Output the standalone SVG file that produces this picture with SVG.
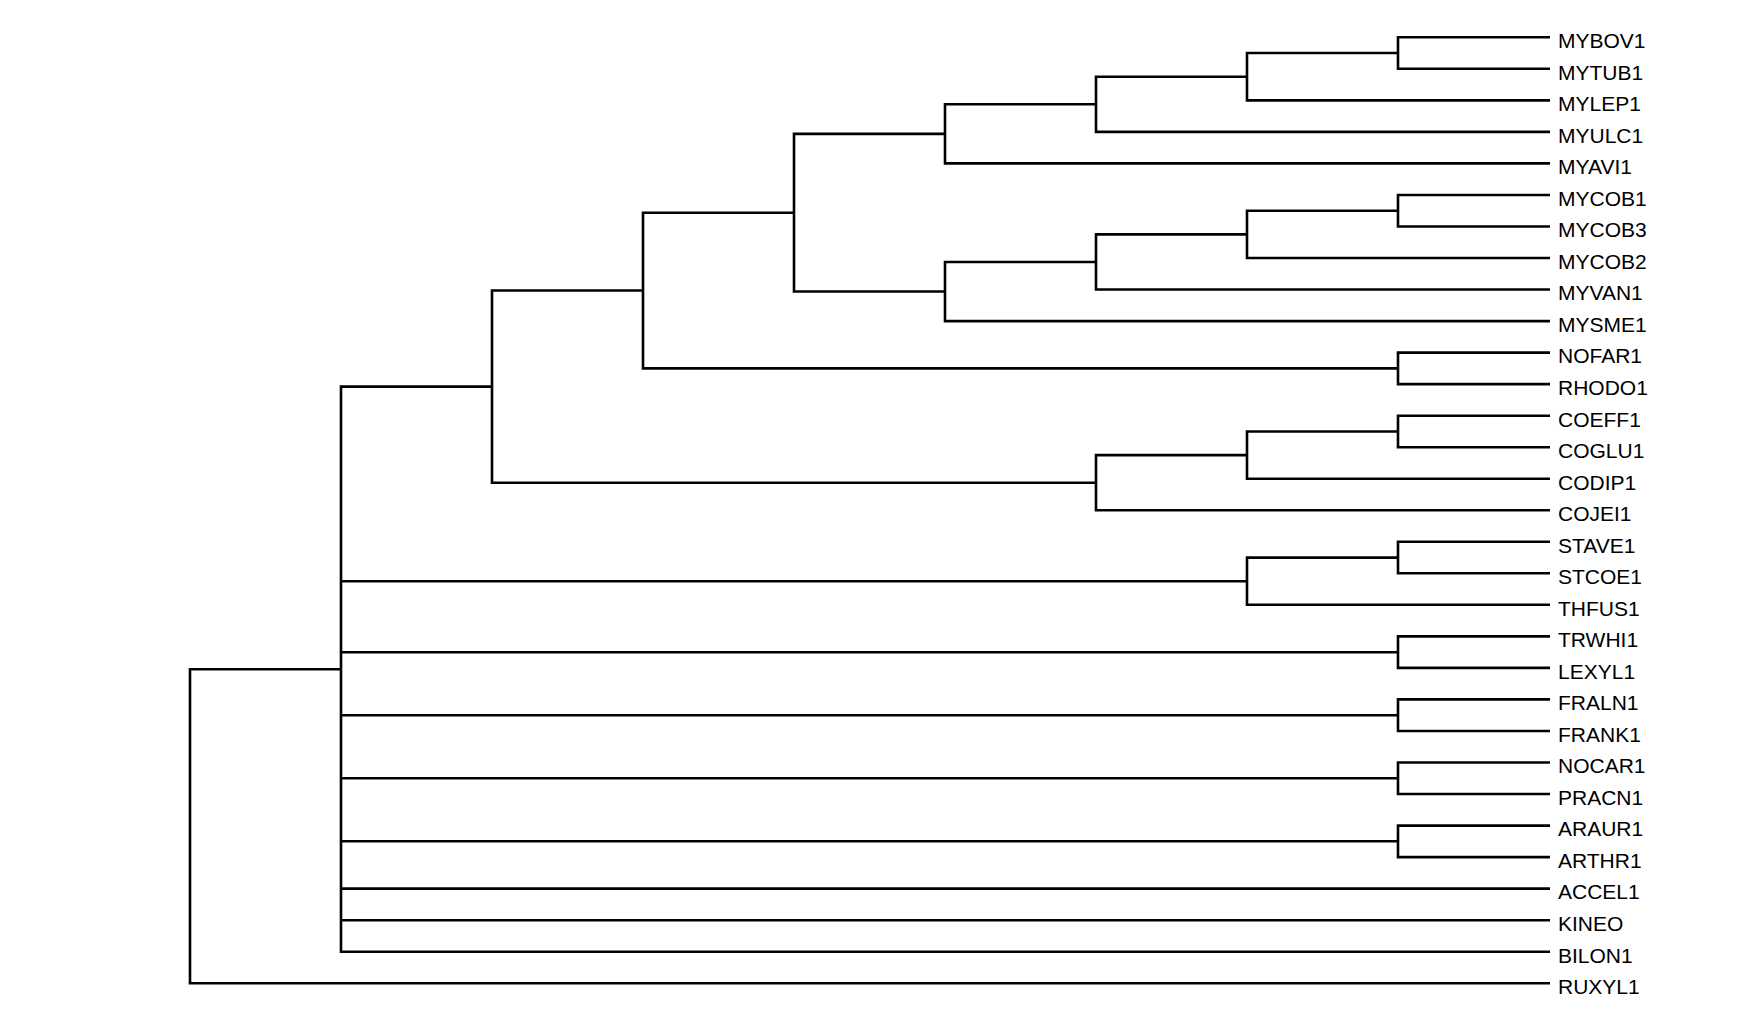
<svg xmlns="http://www.w3.org/2000/svg" width="1763" height="1025" viewBox="0 0 1763 1025">
<style>
.e{fill:none;stroke:#000;stroke-width:2.6;stroke-linejoin:miter;stroke-linecap:butt}
.t{font-family:"Liberation Sans",Arial,sans-serif;font-size:21px;fill:#000}
</style>
<rect width="1763" height="1025" fill="#fff"/>
<g id="connectors">
<path class="e" d="M1398 53.05V37.3H1550M1398 53.05V68.8H1550"/>
<path class="e" d="M1247 76.7V53.05H1398M1247 76.7V100.4H1550"/>
<path class="e" d="M1096 104.3V76.7H1247M1096 104.3V131.9H1550"/>
<path class="e" d="M945 133.9V104.3H1096M945 133.9V163.4H1550"/>
<path class="e" d="M1398 210.75V195H1550M1398 210.75V226.5H1550"/>
<path class="e" d="M1247 234.4V210.75H1398M1247 234.4V258H1550"/>
<path class="e" d="M1096 262V234.4H1247M1096 262V289.5H1550"/>
<path class="e" d="M945 291.5V262H1096M945 291.5V321.1H1550"/>
<path class="e" d="M794 212.7V133.9H945M794 212.7V291.5H945"/>
<path class="e" d="M1398 368.4V352.6H1550M1398 368.4V384.1H1550"/>
<path class="e" d="M643 290.5V212.7H794M643 290.5V368.4H1398"/>
<path class="e" d="M1398 431.5V415.7H1550M1398 431.5V447.2H1550"/>
<path class="e" d="M1247 455.1V431.5H1398M1247 455.1V478.7H1550"/>
<path class="e" d="M1096 482.7V455.1H1247M1096 482.7V510.3H1550"/>
<path class="e" d="M492 386.6V290.5H643M492 386.6V482.7H1096"/>
<path class="e" d="M1398 557.6V541.8H1550M1398 557.6V573.3H1550"/>
<path class="e" d="M1247 581.2V557.6H1398M1247 581.2V604.8H1550"/>
<path class="e" d="M1398 652.2V636.4H1550M1398 652.2V667.9H1550"/>
<path class="e" d="M1398 715.2V699.4H1550M1398 715.2V731H1550"/>
<path class="e" d="M1398 778.3V762.5H1550M1398 778.3V794H1550"/>
<path class="e" d="M1398 841.3V825.6H1550M1398 841.3V857.1H1550"/>
<path class="e" d="M341 669.2V386.6H492M341 669.2V581.2H1247M341 669.2V652.2H1398M341 669.2V715.2H1398M341 669.2V778.3H1398M341 669.2V841.3H1398M341 669.2V888.6H1550M341 669.2V920.2H1550M341 669.2V951.7H1550"/>
<path class="e" d="M190 826.2V669.2H341M190 826.2V983.2H1550"/>
</g>
<g id="leaves">
<g id="MYBOV1"><text class="t" x="1558" y="48.1">MYBOV1</text></g>
<g id="MYTUB1"><text class="t" x="1558" y="79.6">MYTUB1</text></g>
<g id="MYLEP1"><text class="t" x="1558" y="111.2">MYLEP1</text></g>
<g id="MYULC1"><text class="t" x="1558" y="142.7">MYULC1</text></g>
<g id="MYAVI1"><text class="t" x="1558" y="174.2">MYAVI1</text></g>
<g id="MYCOB1"><text class="t" x="1558" y="205.8">MYCOB1</text></g>
<g id="MYCOB3"><text class="t" x="1558" y="237.3">MYCOB3</text></g>
<g id="MYCOB2"><text class="t" x="1558" y="268.8">MYCOB2</text></g>
<g id="MYVAN1"><text class="t" x="1558" y="300.3">MYVAN1</text></g>
<g id="MYSME1"><text class="t" x="1558" y="331.9">MYSME1</text></g>
<g id="NOFAR1"><text class="t" x="1558" y="363.4">NOFAR1</text></g>
<g id="RHODO1"><text class="t" x="1558" y="394.9">RHODO1</text></g>
<g id="COEFF1"><text class="t" x="1558" y="426.5">COEFF1</text></g>
<g id="COGLU1"><text class="t" x="1558" y="458">COGLU1</text></g>
<g id="CODIP1"><text class="t" x="1558" y="489.5">CODIP1</text></g>
<g id="COJEI1"><text class="t" x="1558" y="521.1">COJEI1</text></g>
<g id="STAVE1"><text class="t" x="1558" y="552.6">STAVE1</text></g>
<g id="STCOE1"><text class="t" x="1558" y="584.1">STCOE1</text></g>
<g id="THFUS1"><text class="t" x="1558" y="615.6">THFUS1</text></g>
<g id="TRWHI1"><text class="t" x="1558" y="647.2">TRWHI1</text></g>
<g id="LEXYL1"><text class="t" x="1558" y="678.7">LEXYL1</text></g>
<g id="FRALN1"><text class="t" x="1558" y="710.2">FRALN1</text></g>
<g id="FRANK1"><text class="t" x="1558" y="741.8">FRANK1</text></g>
<g id="NOCAR1"><text class="t" x="1558" y="773.3">NOCAR1</text></g>
<g id="PRACN1"><text class="t" x="1558" y="804.8">PRACN1</text></g>
<g id="ARAUR1"><text class="t" x="1558" y="836.4">ARAUR1</text></g>
<g id="ARTHR1"><text class="t" x="1558" y="867.9">ARTHR1</text></g>
<g id="ACCEL1"><text class="t" x="1558" y="899.4">ACCEL1</text></g>
<g id="KINEO"><text class="t" x="1558" y="931">KINEO</text></g>
<g id="BILON1"><text class="t" x="1558" y="962.5">BILON1</text></g>
<g id="RUXYL1"><text class="t" x="1558" y="994">RUXYL1</text></g>
</g>
</svg>
